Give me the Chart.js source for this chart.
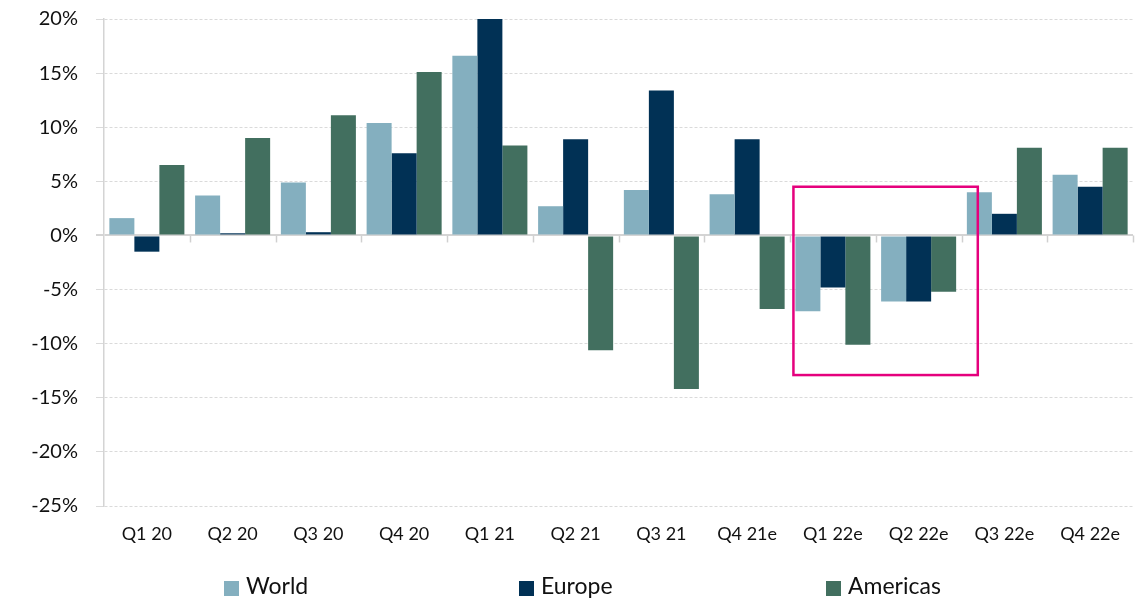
<!DOCTYPE html>
<html>
<head>
<meta charset="utf-8">
<script src="https://cdn.jsdelivr.net/npm/chart.js@4"></script>
<style>
  html, body { margin: 0; padding: 0; background: #ffffff; }
  #wrap { position: relative; width: 1141px; height: 599px; }
  #chart { position: absolute; left: 0; top: 0; }
  #legend {
    position: absolute; left: 224px; top: 571px;
    display: flex; align-items: center;
    font-family: Lato, "Liberation Sans", sans-serif; font-size: 23px; color: #111111;
  }
  #legend .item { display: flex; align-items: center; white-space: nowrap; }
  #legend .item:nth-child(1) { width: 295px; }
  #legend .item:nth-child(2) { width: 307px; }
  #legend .swatch { width: 15px; height: 15px; margin-right: 7px; margin-top: 6px; }
</style>
</head>
<body>
<div id="wrap">
  <canvas id="chart" width="1141" height="599"></canvas>
  <div id="legend"></div>
</div>
<script>
// Quarterly growth rates (%), actuals and estimates
const quarters = ['Q1 20', 'Q2 20', 'Q3 20', 'Q4 20', 'Q1 21', 'Q2 21', 'Q3 21', 'Q4 21e', 'Q1 22e', 'Q2 22e', 'Q3 22e', 'Q4 22e'];
const world    = [1.6, 3.7, 4.9, 10.4, 16.6, 2.7, 4.2, 3.8, -7.0, -6.1, 4.0, 5.6];
const europe   = [-1.5, 0.2, 0.3, 7.6, 20.0, 8.9, 13.4, 8.9, -4.8, -6.1, 2.0, 4.5];
const americas = [6.5, 9.0, 11.1, 15.1, 8.3, -10.6, -14.2, -6.8, -10.1, -5.2, 8.1, 8.1];
const yTicks   = [20, 15, 10, 5, 0, -5, -10, -15, -20, -25];

// Highlighted estimate window: category-index span and value span
const highlightX = [7.54, 9.69];
const highlightY = [4.5, -12.9];

const seriesColors = { World: '#84AFBF', Europe: '#013155', Americas: '#426F5F' };
const FONT = 'Lato, "Liberation Sans", sans-serif';

// Small tick marks on the zero line at category boundaries
const zeroTicks = {
  id: 'zeroTicks',
  afterDatasetsDraw(chart) {
    const { ctx, scales: { x, y } } = chart;
    const y0 = y.getPixelForValue(0);
    const n = quarters.length;
    const step = (x.right - x.left) / n;
    ctx.save();
    ctx.strokeStyle = '#D0D0D0';
    ctx.lineWidth = 1.5;
    for (let k = 1; k <= n; k++) {
      const px = Math.round(x.left + k * step) + 0.5;
      ctx.beginPath();
      ctx.moveTo(px, y0);
      ctx.lineTo(px, y0 + 7);
      ctx.stroke();
    }
    ctx.restore();
  }
};

// Outline box around the highlighted quarters
const highlightBox = {
  id: 'highlightBox',
  afterDatasetsDraw(chart) {
    const { ctx, scales: { x, y } } = chart;
    const x1 = x.getPixelForValue(highlightX[0]);
    const x2 = x.getPixelForValue(highlightX[1]);
    const y1 = y.getPixelForValue(highlightY[0]);
    const y2 = y.getPixelForValue(highlightY[1]);
    ctx.save();
    ctx.strokeStyle = '#E5007D';
    ctx.lineWidth = 2.5;
    ctx.strokeRect(x1, y1, x2 - x1, y2 - y1);
    ctx.restore();
  }
};

const chart = new Chart(document.getElementById('chart'), {
  type: 'bar',
  data: {
    labels: quarters,
    datasets: [
      { label: 'World', data: world, backgroundColor: seriesColors.World },
      { label: 'Europe', data: europe, backgroundColor: seriesColors.Europe },
      { label: 'Americas', data: americas, backgroundColor: seriesColors.Americas }
    ]
  },
  options: {
    responsive: false,
    animation: false,
    layout: { autoPadding: false, padding: { left: 0, right: 8, top: 19, bottom: 43 } },
    datasets: { bar: { categoryPercentage: 0.875, barPercentage: 1.0, borderWidth: 0 } },
    plugins: {
      legend: { display: false },
      tooltip: { enabled: false }
    },
    scales: {
      x: {
        grid: { display: false, drawTicks: false },
        border: { display: false },
        ticks: { color: '#111111', font: { family: FONT, size: 18 }, padding: 17, maxRotation: 0, autoSkip: false },
        afterFit(scale) {
          scale.height = 50;
          scale.paddingLeft = 0;
          scale.paddingRight = 0;
        }
      },
      y: {
        min: -25,
        max: 20,
        afterBuildTicks(scale) { scale.ticks = yTicks.map(v => ({ value: v })); },
        ticks: {
          color: '#111111',
          font: { family: FONT, size: 20 },
          padding: 18,
          callback: v => v + '%'
        },
        grid: {
          color: ctx => (ctx.tick && ctx.tick.value === 0) ? '#D4D4D4' : '#DADADA',
          lineWidth: ctx => (ctx.tick && ctx.tick.value === 0) ? 2 : 1,
          tickLength: 8
        },
        border: {
          display: true,
          color: '#D4D4D4',
          width: 1.5,
          dash: ctx => (ctx.tick && ctx.tick.value === 0) ? [] : [3, 2]
        },
        afterFit(scale) {
          scale.width = 104;
          scale.paddingTop = 0;
          scale.paddingBottom = 0;
        }
      }
    }
  },
  plugins: [zeroTicks, highlightBox]
});

// Legend built from the chart's datasets
const legendEl = document.getElementById('legend');
chart.data.datasets.forEach(ds => {
  const item = document.createElement('div');
  item.className = 'item';
  const sw = document.createElement('span');
  sw.className = 'swatch';
  sw.style.background = ds.backgroundColor;
  const txt = document.createElement('span');
  txt.textContent = ds.label;
  item.appendChild(sw);
  item.appendChild(txt);
  legendEl.appendChild(item);
});
</script>
</body>
</html>
